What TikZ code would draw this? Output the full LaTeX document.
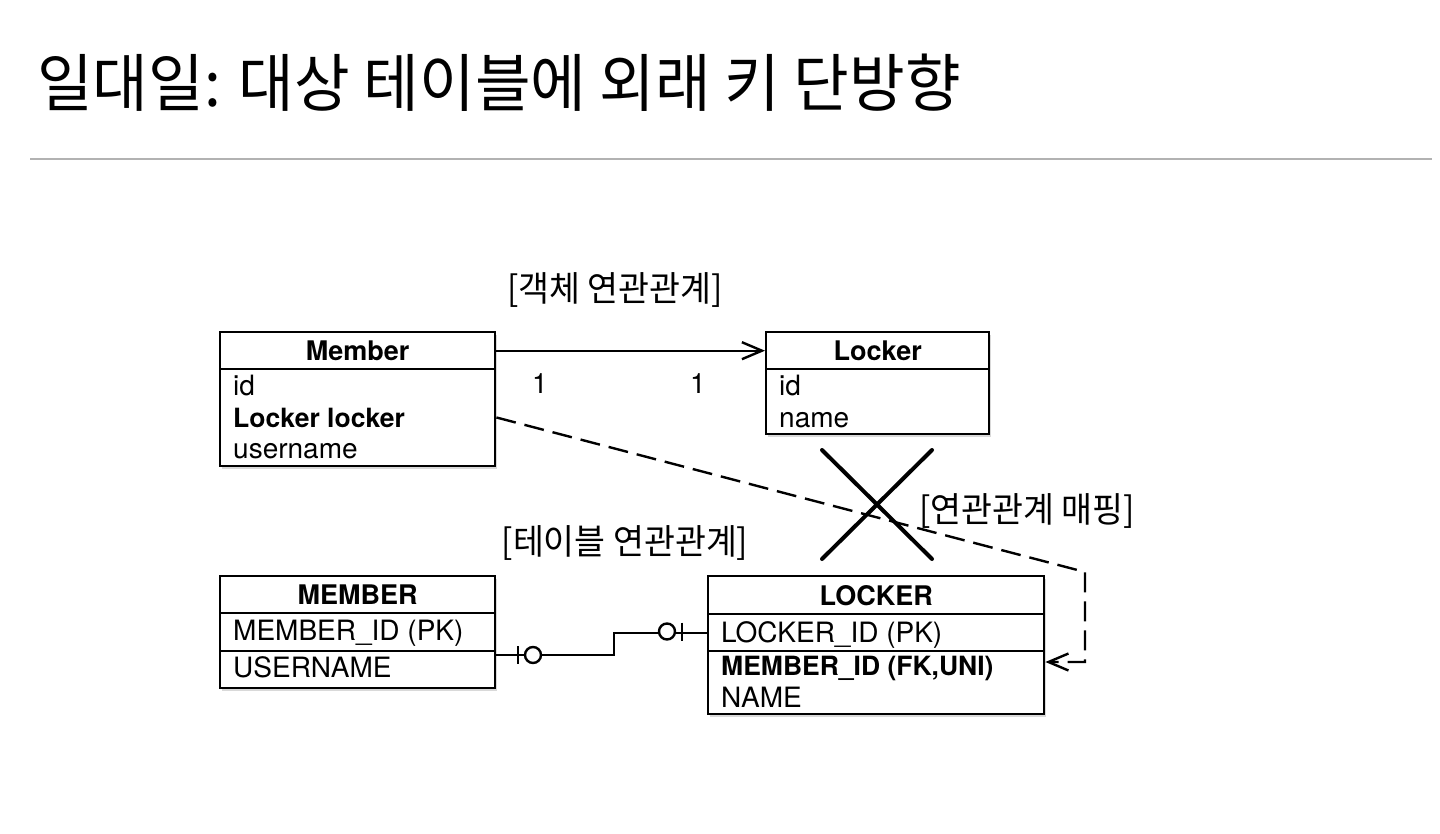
\documentclass[tikz,border=0pt]{standalone}
\usepackage{fontspec}
\setmainfont{TeX Gyre Heros}
\newfontfamily\kr[FakeStretch=0.96]{Noto Sans CJK KR}
\usetikzlibrary{arrows.meta,shadows}

\tikzset{every picture/.style={line width=2.4pt}}
\tikzset{
  tbl/.style={draw, fill=white, anchor=north west, inner sep=0pt},
  tshadow/.style={tbl, drop shadow={shadow xshift=2pt, shadow yshift=-3pt, opacity=0.3}},
  hd/.style={tbl, font=\bfseries\fontsize{27}{32}\selectfont},
  fld/.style={anchor=base west, inner sep=0pt, font=\fontsize{28}{32}\selectfont},
  fldb/.style={fld, font=\bfseries\fontsize{26.5}{32}\selectfont},
  krlabel/.style={inner sep=0pt, font=\kr\fontsize{35}{40}\selectfont},
  tip/.style={-{Straight Barb[length=20pt,width=17pt]}},
}

\begin{document}
\begin{tikzpicture}[x=1pt,y=1pt,yscale=-1]
\useasboundingbox (0,0) rectangle (1440,834);

% title and rule
\node[anchor=west, inner sep=0pt, font=\kr\fontsize{63}{70}\selectfont] (title) at (36,83) {일대일: 대상 테이블에 외래 키 단방향};
\draw[line width=2pt, black!30] (30,159) -- (1432,159);

% Member object
\node[tshadow, minimum width=275pt, minimum height=134pt] (memberBox) at (219,331) {};
\node[hd, minimum width=275pt, minimum height=37pt] (memberHead) at (219,331) {Member};
\node[fld] (memberId) at (232,395) {id};
\node[fldb] (memberLocker) at (232,427) {Locker locker};
\node[fld] (memberName) at (232,458) {username};

% Locker object
\node[tshadow, minimum width=223pt, minimum height=102pt] (lockerBox) at (765,331) {};
\node[hd, minimum width=223pt, minimum height=37pt] (lockerHead) at (765,331) {Locker};
\node[fld] (lockerId) at (778,395) {id};
\node[fld] (lockerName) at (778,427) {name};

% MEMBER table
\node[tshadow, minimum width=275pt, minimum height=112pt] (MEMBERbox) at (219,575) {};
\node[hd, minimum width=275pt, minimum height=37pt] (MEMBERhead) at (219,575) {MEMBER};
\node[tbl, minimum width=275pt, minimum height=38pt] (MEMBERpk) at (219,612) {};
\node[fld] (MEMBERid) at (232,640) {MEMBER\_ID (PK)};
\node[fld] (MEMBERname) at (232,677) {USERNAME};

% LOCKER table
\node[tshadow, minimum width=336pt, minimum height=138pt] (LOCKERbox) at (707,575) {};
\node[hd, minimum width=336pt, minimum height=38pt] (LOCKERhead) at (707,575) {LOCKER};
\node[tbl, minimum width=336pt, minimum height=37pt] (LOCKERpk) at (707,613) {};
\node[fld] (LOCKERid) at (720,642) {LOCKER\_ID (PK)};
\node[fldb] (LOCKERfk) at (720,675) {MEMBER\_ID (FK,UNI)};
\node[fld] (LOCKERname) at (720,707) {NAME};

% labels
\node[krlabel] (objLabel) at (615,290) {[객체 연관관계]};
\node[krlabel] (tblLabel) at (625,543) {[테이블 연관관계]};
\node[krlabel] (mapLabel) at (1027,511) {[연관관계 매핑]};
\node[fld, anchor=center] (oneL) at (540,384) {1};
\node[fld, anchor=center] (oneR) at (698,384) {1};

% object reference
\draw[tip] (memberHead.east) -- (lockerHead.west);

% mapping (dashed)
\coordinate (dashA) at (1085,572);
\coordinate (dashB) at (1085,662);
\draw[tip, dash pattern=on 20pt off 9pt] (memberBox.east |- memberLocker) -- (dashA) -- (dashB) -- (LOCKERbox.east |- dashB);

% crossed out
\draw[line width=4pt, line cap=round] (822,450) -- (932,559) (932,450) -- (822,559);

% ER link, zero or one on both ends
\coordinate (erA) at (494,655);
\coordinate (erStep) at (614,655);
\draw (erA) -- (erStep) -- (erStep |- LOCKERpk.west) -- (LOCKERpk.west);
\draw (518,646) -- (518,664);
\draw[fill=white] (533,655) circle (8);
\draw[fill=white] (667,631.5) circle (8);
\draw (682,622.5) -- (682,640.5);

\end{tikzpicture}
\end{document}
